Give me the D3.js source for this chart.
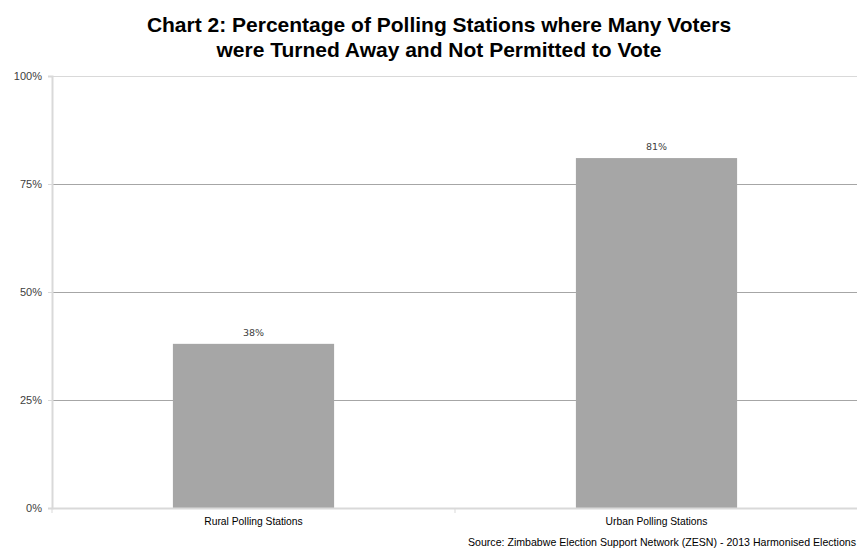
<!DOCTYPE html>
<html>
<head>
<meta charset="utf-8">
<script src="https://cdn.jsdelivr.net/npm/d3@7"></script>
<style>
  html, body { margin: 0; padding: 0; background: #fff; }
  svg { display: block; }
</style>
</head>
<body>
<svg id="chart" width="857" height="550"></svg>
<script>
// Share of polling stations where many voters were turned away
const categories = ["Rural Polling Stations", "Urban Polling Stations"];
const values = [38, 81];
const valueLabels = ["38%", "81%"];
const yTicks = [0, 25, 50, 75, 100];
const yTickLabels = ["0%", "25%", "50%", "75%", "100%"];
const titleLines = [
  "Chart 2: Percentage of Polling Stations where Many Voters",
  "were Turned Away and Not Permitted to Vote"
];
const sourceText = "Source: Zimbabwe Election Support Network (ZESN) - 2013 Harmonised Elections";

const svg = d3.select("#chart");
const margin = { top: 76, right: -1, bottom: 42, left: 52 };
const width = 857, height = 550;
const innerW = width - margin.left - margin.right;
const innerH = height - margin.top - margin.bottom;

const g = svg.append("g").attr("transform", `translate(${margin.left},${margin.top})`);

const x = d3.scaleBand().domain(categories).range([0, innerW]).paddingInner(0).paddingOuter(0);
const y = d3.scaleLinear().domain([0, 100]).range([innerH, 0]);
const barW = x.bandwidth() * 0.4;

// Horizontal gridlines
g.selectAll("line.grid")
  .data(yTicks.filter(t => t > 0 && t < 100))
  .join("line")
  .attr("class", "grid")
  .attr("x1", 0).attr("x2", innerW)
  .attr("y1", d => y(d)).attr("y2", d => y(d))
  .attr("stroke", "#a6a6a6").attr("stroke-width", 1)
  .attr("shape-rendering", "crispEdges");

// Top border line
g.append("line")
  .attr("x1", 0).attr("x2", innerW)
  .attr("y1", y(100)).attr("y2", y(100))
  .attr("stroke", "#d9d9d9").attr("stroke-width", 1)
  .attr("shape-rendering", "crispEdges");

// Y axis
const yAxis = g.append("g")
  .call(d3.axisLeft(y).tickValues(yTicks).tickFormat((d, i) => yTickLabels[i]).tickSize(4).tickPadding(6));
yAxis.select(".domain").attr("stroke", "#d9d9d9").attr("stroke-width", 2);
yAxis.selectAll(".tick line").attr("stroke", "#d9d9d9");
yAxis.selectAll(".tick text")
  .attr("fill", "#404040")
  .style("font-family", "'Liberation Sans', Arial, sans-serif")
  .style("font-size", "11px");

// Bars
g.selectAll("rect.bar")
  .data(values)
  .join("rect")
  .attr("class", "bar")
  .attr("x", (d, i) => x(categories[i]) + (x.bandwidth() - barW) / 2)
  .attr("width", barW)
  .attr("y", d => y(d))
  .attr("height", d => innerH - y(d))
  .attr("fill", "#a6a6a6");

// Value labels
g.selectAll("text.val")
  .data(values)
  .join("text")
  .attr("class", "val")
  .attr("x", (d, i) => x(categories[i]) + x.bandwidth() / 2)
  .attr("y", d => y(d) - 8)
  .attr("text-anchor", "middle")
  .attr("fill", "#404040")
  .style("font-family", "'DejaVu Sans', sans-serif")
  .style("font-size", "9.5px")
  .text((d, i) => valueLabels[i]);

// X axis
const xAxis = g.append("g")
  .attr("transform", `translate(0,${innerH})`)
  .call(d3.axisBottom(x).tickSize(0).tickPadding(10));
xAxis.select(".domain").attr("stroke", "#d9d9d9").attr("stroke-width", 2);
xAxis.selectAll(".tick text")
  .attr("fill", "#000")
  .style("font-family", "'Liberation Sans', Arial, sans-serif")
  .style("font-size", "10.3px");

// Category separator ticks
g.selectAll("line.sep")
  .data([0, innerW / 2])
  .join("line")
  .attr("class", "sep")
  .attr("x1", d => d).attr("x2", d => d)
  .attr("y1", innerH).attr("y2", innerH + 5)
  .attr("stroke", "#d9d9d9").attr("stroke-width", 1);

// Title
svg.append("text")
  .attr("text-anchor", "middle")
  .attr("fill", "#000")
  .style("font-family", "'Liberation Sans', Arial, sans-serif")
  .style("font-weight", "bold")
  .style("font-size", "21px")
  .selectAll("tspan")
  .data(titleLines)
  .join("tspan")
  .attr("x", 439)
  .attr("y", (d, i) => 32 + i * 25)
  .text(d => d);

// Source note
svg.append("text")
  .attr("x", 856)
  .attr("y", 546)
  .attr("text-anchor", "end")
  .attr("fill", "#000")
  .style("font-family", "'Liberation Sans', Arial, sans-serif")
  .style("font-size", "10.6px")
  .text(sourceText);
</script>
</body>
</html>
